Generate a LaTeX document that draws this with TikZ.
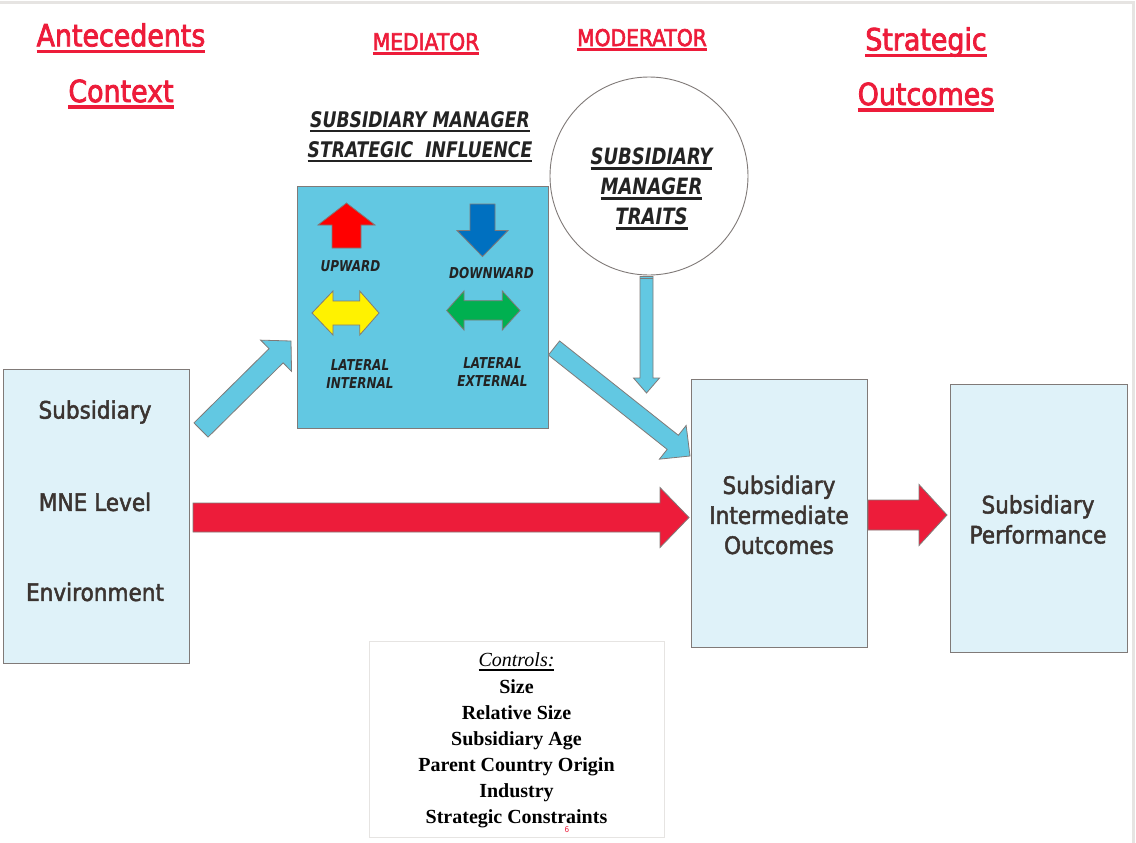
\documentclass[tikz,border=0pt]{standalone}
\usepackage{fontspec}
\setmainfont{DejaVu Sans}[FakeStretch=0.9]
\newfontfamily\heavyf{DejaVu Sans}[FakeStretch=0.9, FakeBold=2]
\newfontfamily\headf{DejaVu Sans}[FakeStretch=0.88, FakeBold=2.6]
\newfontfamily\condf{DejaVu Sans}[FakeStretch=0.8]
\newfontfamily\timesf{Liberation Serif}
\usetikzlibrary{calc}
\definecolor{tred}{RGB}{237,28,58}
\definecolor{cyanb}{RGB}{98,200,226}
\definecolor{lightb}{RGB}{223,242,249}
\definecolor{edgec}{RGB}{128,122,120}
\definecolor{txt}{RGB}{59,52,49}
\definecolor{itxt}{RGB}{35,35,35}
\definecolor{upred}{RGB}{255,0,0}
\definecolor{dnblue}{RGB}{0,112,192}
\definecolor{lgreen}{RGB}{0,176,80}
\definecolor{framec}{RGB}{230,228,226}
\newsavebox\ulbox
\newcommand\myul[3]{\sbox\ulbox{#3}\rlap{\usebox\ulbox}\rule[-#1]{\wd\ulbox}{#2}}
\newcommand\ulT[1]{\myul{6.5pt}{3.2pt}{#1}}
\newcommand\ulS[1]{\myul{5pt}{2.8pt}{#1}}
\newcommand\ulC[1]{\myul{4.5pt}{2pt}{#1}}
\newcommand\blockarrow[6]{%
  \coordinate (ba-h) at ($(#3)!#6!(#2)$);
  \draw[#1] ($(#2)!#4!90:(#3)$) -- ($(ba-h)!#4!90:(#3)$) -- ($(ba-h)!#5!90:(#3)$) -- (#3)
    -- ($(ba-h)!#5!-90:(#3)$) -- ($(ba-h)!#4!-90:(#3)$) -- ($(#2)!#4!-90:(#3)$) -- cycle;}
\tikzset{
  lbox/.style={draw=edgec, line width=1pt, fill=lightb, inner sep=0},
  medbox/.style={draw=edgec, line width=1pt, fill=cyanb, inner sep=0},
  ctrlbox/.style={draw=framec, line width=1pt, fill=white, inner sep=0},
  heading/.style={text=tred, font=\headf\fontsize{30.5}{36}\selectfont, inner sep=0},
  subheading/.style={text=tred, font=\headf\fontsize{23}{27}\selectfont, inner sep=0},
  boxtext/.style={text=txt, font=\heavyf\fontsize{24}{30}\selectfont, align=center, inner sep=0},
  ittext/.style={text=itxt, font=\condf\bfseries\itshape\fontsize{15}{18}\selectfont, align=center, inner sep=0},
  bluearrow/.style={draw=edgec, line width=0.8pt, fill=cyanb},
  redarrow/.style={draw=edgec, line width=0.8pt, fill=tred},
  icon/.style={draw=edgec, line width=0.8pt},
}
\begin{document}
\begin{tikzpicture}[x=1pt,y=-1pt]
\useasboundingbox (0,0) rectangle (1136,843);
\fill[white] (0,0) rectangle (1136,843);
\draw[framec, line width=3pt] (0,3) -- (1133,3) -- (1133,843);

% headings
\node[heading] (ante) at (121,38) {\ulT{Antecedents}};
\node[heading] (ctx) at (121,94) {\ulT{Context}};
\node[subheading] (medh) at (426,44) {\ulS{MEDIATOR}};
\node[subheading] (modh) at (642,40) {\ulS{MODERATOR}};
\node[heading] (strat) at (926,42) {\ulT{Strategic}};
\node[heading] (outc) at (926,97) {\ulT{Outcomes}};
\node[text=itxt, font=\condf\bfseries\itshape\fontsize{21.5}{30}\selectfont, align=center, inner sep=0] (smsi) at (420,137)
  {\ulS{SUBSIDIARY MANAGER}\\\ulS{STRATEGIC\ \ INFLUENCE}};

% boxes
\node[lbox, minimum width=186pt, minimum height=294pt] (env) at (96,516) {};
\node[lbox, minimum width=176pt, minimum height=268pt] (mid) at (779,513) {};
\node[lbox, minimum width=177pt, minimum height=268pt] (perf) at (1038.5,518) {};
\node[medbox, minimum width=251pt, minimum height=242pt] (med) at (422.5,307) {};
\node[ctrlbox, minimum width=295pt, minimum height=196pt] (ctrl) at (516.5,739.5) {};
\node[draw=edgec, line width=0.9pt, circle, minimum size=198pt, inner sep=0, fill=white] (traits) at (649,176) {};

% box texts
\node[boxtext] (t1) at (95,412) {Subsidiary};
\node[boxtext] (t2) at (95,502) {MNE Level};
\node[boxtext] (t3) at (95,592) {Environment};
\node[boxtext] (t4) at (779,515) {Subsidiary\\Intermediate\\Outcomes};
\node[boxtext] (t5) at (1038,519.5) {Subsidiary\\Performance};
\node[text=itxt, font=\condf\bfseries\itshape\fontsize{22.5}{30}\selectfont, align=center, inner sep=0] (t6) at (651.5,189)
  {\ulS{SUBSIDIARY}\\\ulS{MANAGER}\\\ulS{TRAITS}};
\node[font=\timesf\bfseries\fontsize{20}{26.1}\selectfont, align=center, inner sep=0, text=black] (t7) at (516.5,740.5)
  {{\mdseries\itshape\ulC{Controls:}}\\Size\\Relative Size\\Subsidiary Age\\Parent Country Origin\\Industry\\Strategic Constraints};
\node[text=tred, font=\fontsize{8}{8}\selectfont, inner sep=0] (pg) at (567,830) {6};

% mediator icons
\coordinate (upS) at (346.5,248);
\coordinate (upE) at (346.5,203);
\blockarrow{icon, fill=upred}{upS}{upE}{14.5pt}{28.5pt}{22pt}
\coordinate (dnS) at (482.5,204);
\coordinate (dnE) at (482.5,256.5);
\blockarrow{icon, fill=dnblue}{dnS}{dnE}{12.5pt}{25.5pt}{26pt}
\draw[icon, fill=yellow] (312,313) -- (333,291) -- (333,301) -- (359.7,301) -- (359.7,291) -- (379,313)
  -- (359.7,335) -- (359.7,325) -- (333,325) -- (333,335) -- cycle;
\draw[icon, fill=lgreen] (446.7,310.5) -- (464,291) -- (464,300.7) -- (502.3,300.7) -- (502.3,291) -- (520,310.5)
  -- (502.3,330) -- (502.3,320) -- (464,320) -- (464,330) -- cycle;
\node[ittext] (up) at (350.5,266.5) {UPWARD};
\node[ittext] (dn) at (491.5,273.5) {DOWNWARD};
\node[ittext] (li) at (360,374.5) {LATERAL\\INTERNAL};
\node[ittext] (le) at (492.5,372.5) {LATERAL\\EXTERNAL};

% connectors
\coordinate (a1s) at (201,430);
\coordinate (a1e) at (291,341);
\blockarrow{bluearrow}{a1s}{a1e}{10pt}{22pt}{21pt}
\coordinate (a2s) at (554,348);
\coordinate (a2e) at (690,456);
\blockarrow{bluearrow}{a2s}{a2e}{9pt}{21.5pt}{22pt}
\coordinate (a3s) at ($(traits.south)+(-2.5,1)$);
\coordinate (a3e) at (646.5,393);
\blockarrow{bluearrow}{a3s}{a3e}{6.5pt}{13pt}{15pt}
\draw[edgec, line width=0.8pt] (640,278.5) -- (653,278.5);
\coordinate (r1s) at (193,517.5);
\coordinate (r1e) at (689,517.5);
\blockarrow{redarrow}{r1s}{r1e}{14.5pt}{30pt}{29pt}
\coordinate (r2s) at (868,515);
\coordinate (r2e) at (947,515);
\blockarrow{redarrow}{r2s}{r2e}{15pt}{30.5pt}{28pt}
\end{tikzpicture}
\end{document}
